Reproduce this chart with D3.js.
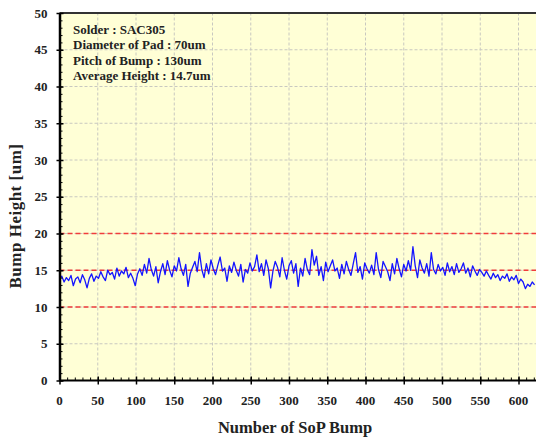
<!DOCTYPE html>
<html>
<head>
<meta charset="utf-8">
<script src="https://cdn.jsdelivr.net/npm/d3@7"></script>
<style>
  body { margin: 0; background: #fff; }
  text { font-family: "Liberation Serif", "Times New Roman", serif; font-weight: bold; }
</style>
</head>
<body>
<div id="chart"></div>
<script>
// bump height [um], one reading every 3rd bump (0, 3, 6, ...)
const bumpStep = 3;
const bumpHeights = [
  13.8,14.2,13.4,14.0,13.6,14.3,12.9,13.8,14.1,13.3,14.4,13.7,12.6,13.9,14.5,13.5,14.2,
  13.9,14.8,14.1,13.6,15.0,14.4,14.7,13.8,15.3,14.2,14.9,14.5,15.4,14.0,14.6,13.9,12.9,
  14.5,15.2,14.3,15.8,14.6,16.6,15.1,14.2,15.5,13.3,14.8,15.9,14.4,16.3,15.0,14.1,15.6,
  14.9,16.7,15.2,14.3,15.8,12.8,14.6,15.4,16.2,14.8,17.4,15.1,14.0,15.9,14.5,16.4,15.2,
  14.4,15.7,16.8,14.9,15.3,13.5,15.6,14.7,16.1,15.0,14.2,15.8,13.4,15.1,14.6,16.0,14.9,
  15.5,17.1,14.8,15.9,14.3,16.4,15.2,12.6,14.9,16.2,15.4,14.1,16.7,15.0,13.8,15.6,16.3,
  14.6,15.9,12.8,15.3,14.2,16.6,15.1,14.4,17.8,15.7,16.9,14.3,15.5,13.6,16.1,14.8,15.6,
  16.4,14.9,15.3,13.9,15.8,14.5,16.2,15.1,14.3,15.9,17.4,14.7,15.5,13.8,16.0,15.2,14.6,
  15.7,14.4,17.4,15.1,14.0,16.2,15.5,14.8,13.6,15.9,14.5,16.6,15.2,14.1,15.8,14.9,16.3,
  15.0,18.2,15.6,14.0,16.4,15.3,14.6,15.9,14.2,17.4,15.1,14.5,15.8,14.9,15.4,14.3,16.0,
  14.8,15.5,14.4,15.9,14.7,15.2,16.0,14.6,15.3,14.1,15.6,14.9,14.3,15.1,14.7,14.2,14.9,
  14.3,13.8,14.6,14.0,14.4,13.6,14.2,13.9,14.5,13.5,14.1,13.7,14.3,13.2,13.8,13.4,12.5,
  13.1,12.8,13.4,13.0
];
const limitLines = [10, 15, 20];
const xTicks = [0, 50, 100, 150, 200, 250, 300, 350, 400, 450, 500, 550, 600];
const yTicks = [0, 5, 10, 15, 20, 25, 30, 35, 40, 45, 50];
const infoLines = [
  "Solder : SAC305",
  "Diameter of Pad : 70um",
  "Pitch of Bump : 130um",
  "Average Height : 14.7um"
];

const width = 536, height = 437;
const margin = {top: 13, left: 59.5, bottom: 56};

const svg = d3.select("#chart").append("svg")
    .attr("width", width)
    .attr("height", height);

// plot runs past the right edge of the picture
const x = d3.scaleLinear().domain([0, 650]).range([margin.left, margin.left + 650 * 0.765]);
const y = d3.scaleLinear().domain([0, 50]).range([height - margin.bottom - 0.5, margin.top]);

// background
svg.append("rect")
    .attr("x", x(0)).attr("y", y(50))
    .attr("width", x(650) - x(0)).attr("height", y(0) - y(50))
    .attr("fill", "#ffffd6");

// grid
svg.append("g").selectAll("line")
    .data(xTicks.filter(d => d > 0))
    .join("line")
    .attr("x1", d => x(d)).attr("x2", d => x(d))
    .attr("y1", y(0)).attr("y2", y(50))
    .attr("stroke", "#c8c8c0").attr("stroke-width", 1)
    .attr("stroke-dasharray", "3,2");

svg.append("g").selectAll("line")
    .data(yTicks.filter(d => d > 0 && d < 50))
    .join("line")
    .attr("x1", x(0)).attr("x2", x(650))
    .attr("y1", d => y(d)).attr("y2", d => y(d))
    .attr("stroke", "#c8c8c0").attr("stroke-width", 1)
    .attr("stroke-dasharray", "3,2");

// reference lines
svg.append("g").selectAll("line")
    .data(limitLines)
    .join("line")
    .attr("x1", x(0)).attr("x2", x(650))
    .attr("y1", d => y(d)).attr("y2", d => y(d))
    .attr("stroke", "#f03c3c").attr("stroke-width", 1.5)
    .attr("stroke-dasharray", "5,3");

// data line
const line = d3.line()
    .x((d, i) => x(i * bumpStep))
    .y(d => y(d));

svg.append("path")
    .datum(bumpHeights)
    .attr("d", line)
    .attr("fill", "none")
    .attr("stroke", "#1414ff")
    .attr("stroke-width", 1.3)
    .attr("stroke-linejoin", "round");

// top border
svg.append("line")
    .attr("x1", x(0)).attr("x2", width)
    .attr("y1", y(50)).attr("y2", y(50))
    .attr("stroke", "#333").attr("stroke-width", 2);

// axes
const xAxis = svg.append("g")
    .attr("transform", "translate(0," + y(0) + ")");
xAxis.call(d3.axisBottom(x).tickValues(d3.range(0, 650, 10)).tickSize(-3).tickFormat(""))
    .call(g => g.select(".domain").remove());
xAxis.append("g")
    .call(d3.axisBottom(x).tickValues(xTicks).tickSizeInner(4).tickSizeOuter(0).tickFormat(""))
    .call(g => g.selectAll(".tick line").attr("y1", -4).attr("stroke-width", 1.5))
    .call(g => g.select(".domain").attr("stroke-width", 2).attr("d", "M" + x(0) + ",0H" + width));
xAxis.selectAll(".xlab")
    .data(xTicks)
    .join("text")
    .attr("class", "xlab")
    .attr("x", d => x(d)).attr("y", 24)
    .attr("text-anchor", "middle")
    .attr("font-size", 13)
    .attr("fill", "#222")
    .text(d => d);

const yAxis = svg.append("g")
    .attr("transform", "translate(" + x(0) + ",0)");
yAxis.call(d3.axisLeft(y).tickValues(d3.range(0, 51, 1)).tickSize(-3).tickFormat(""))
    .call(g => g.select(".domain").remove());
yAxis.append("g")
    .call(d3.axisLeft(y).tickValues(yTicks).tickSizeInner(3).tickSizeOuter(0).tickFormat(""))
    .call(g => g.selectAll(".tick line").attr("x1", 4).attr("stroke-width", 1.5))
    .call(g => g.select(".domain").attr("stroke-width", 2.5));
yAxis.selectAll(".ylab")
    .data(yTicks)
    .join("text")
    .attr("class", "ylab")
    .attr("x", -12).attr("y", d => y(d) + 4.5)
    .attr("text-anchor", "end")
    .attr("font-size", 13)
    .attr("fill", "#222")
    .text(d => d);

// axis titles
svg.append("text")
    .attr("x", 295).attr("y", 433)
    .attr("text-anchor", "middle")
    .attr("font-size", 16.5)
    .attr("fill", "#222")
    .text("Number of SoP Bump");

svg.append("text")
    .attr("transform", "translate(21,216) rotate(-90)")
    .attr("text-anchor", "middle")
    .attr("font-size", 17)
    .attr("letter-spacing", 0.5)
    .attr("fill", "#222")
    .text("Bump Height [um]");

// info box text
svg.append("g").selectAll("text")
    .data(infoLines)
    .join("text")
    .attr("x", 73)
    .attr("y", (d, i) => 34 + i * 15.4)
    .attr("font-size", 13)
    .attr("fill", "#222")
    .text(d => d);
</script>
</body>
</html>
